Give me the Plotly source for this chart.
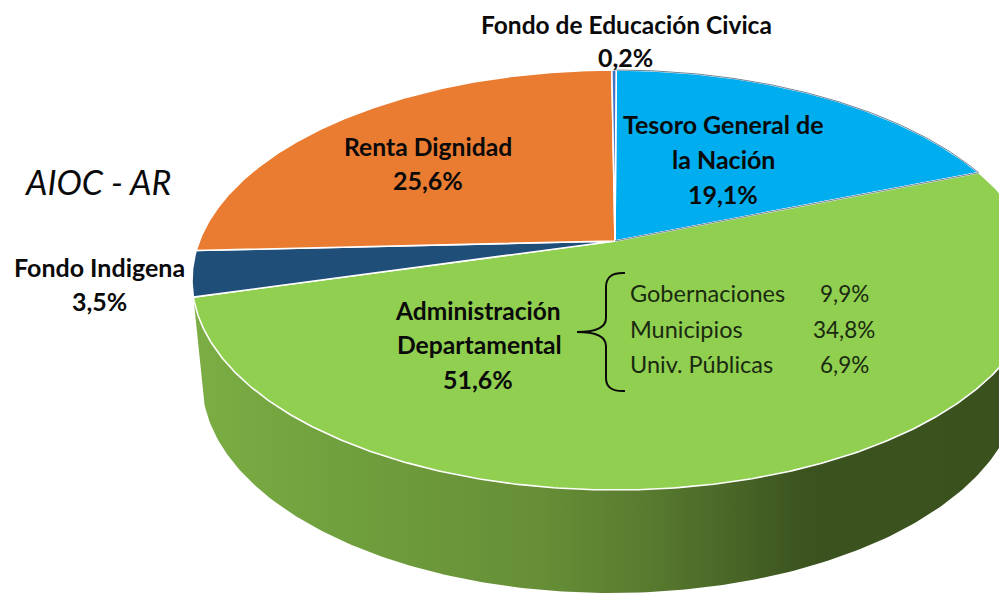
import numpy as np
import plotly.graph_objects as go

# ---- data -------------------------------------------------------------
slice_names = ["Tesoro General de la Nación", "Administración Departamental",
               "Fondo Indigena", "Renta Dignidad", "Fondo de Educación Civica"]
slice_values = [19.1, 51.6, 3.5, 25.6, 0.2]
slice_colors = ["#00ADEE", "#90CF50", "#1F4E79", "#EA7C32", "#4472C4"]
sub_names = ["Gobernaciones", "Municipios", "Univ. Públicas"]
sub_values = ["9,9%", "34,8%", "6,9%"]

# ---- tilted pie projection ----------------------------------------------
CX, CY, RX, RY = 615, 280, 423, 210
H = 0.186  # how far the apex sits above the ellipse centre (normalised)
BX, BY, BRX, BRY = 611, 381, 409, 212  # lower rim of the side wall
START = 0.2  # degrees


def project(deg, r=1.0):
    t = np.radians(deg)
    u, v = r * np.sin(t), r * np.cos(t)
    d = 1 + H * v
    return CX + RX * u * np.sqrt(1 - H ** 2) / d, CY - RY * (v + H) / d


fig = go.Figure()

# side wall
left_x, left_y = project(START + 360 * (slice_values[0] + slice_values[1]) / 100)
a = np.radians(np.linspace(180, 360, 200))
wall_x = [left_x, *(BX + BRX * np.cos(a)), CX + RX]
wall_y = [left_y, *(BY - BRY * np.sin(a)), CY]
fig.add_trace(go.Scatter(
    x=wall_x, y=wall_y, mode="lines", fill="toself", line=dict(width=0),
    hoverinfo="skip", showlegend=False,
    fillgradient=dict(type="horizontal", colorscale=[
        [0.0, "#7BAD44"], [0.13, "#72A33F"], [0.42, "#668E36"],
        [0.55, "#587A2F"], [0.74, "#3B531F"], [1.0, "#3A511E"]],
        start=200, stop=1020),
))

# top face, drawn from the slice values
cum = START
for name, val, col in zip(slice_names, slice_values, slice_colors):
    deg = np.linspace(cum, cum + 360 * val / 100, max(4, int(val * 8)))
    xs, ys = project(deg)
    ax, ay = project(0, 0)
    fig.add_trace(go.Scatter(
        x=[ax, *xs, ax], y=[ay, *ys, ay], mode="lines", fill="toself",
        fillcolor=col, line=dict(color="white", width=1.6),
        name=name, hoverinfo="name", showlegend=False))
    cum += 360 * val / 100

# thin grey edge around the blue slice
deg = np.linspace(START, START + 360 * slice_values[0] / 100, 120)
xs, ys = project(deg)
ax, ay = project(0, 0)
fig.add_trace(go.Scatter(x=[*xs, ax], y=[*ys, ay], mode="lines",
                         line=dict(color="#6E8496", width=1),
                         hoverinfo="skip", showlegend=False))

FONT = "Lato"


def label(x, y, text, size=25, bold=True, anchor="center", italic=False, color="#0a0a0a"):
    t = f"<b>{text}</b>" if bold else text
    t = f"<i>{t}</i>" if italic else t
    fig.add_annotation(x=x, y=y, xref="x", yref="y", text=t, showarrow=False,
                       xanchor=anchor, yanchor="middle",
                       font=dict(family=FONT, size=size, color=color))


label(626, 24, "Fondo de Educación Civica", size=24.5)
label(625, 57, "0,2%")
label(723, 124, "Tesoro General de")
label(723, 159, "la Nación")
label(723, 194, "19,1%")
label(428, 146, "Renta Dignidad", size=24.7)
label(428, 180, "25,6%")
label(97, 181, "AIOC - AR", size=34, bold=False, italic=True)
label(99, 267, "Fondo Indigena")
label(99, 301, "3,5%")
label(478, 310, "Administración", size=24.5)
label(479, 344, "Departamental", size=24.7)
label(478, 379, "51,6%")
for y, n, v in zip([293, 329, 364], sub_names, sub_values):
    label(628, y, n, size=23.5, bold=False, anchor="left", color="#1a2a10")
    label(844, y, v, size=22.5, bold=False, color="#1a2a10")

# brace
fig.add_shape(type="path", xref="x", yref="y",
              path="M 625 273 Q 606 272 606 287 L 606 318 Q 606 332 577 332 "
                   "Q 606 332 606 346 L 606 378 Q 606 392 625 391",
              line=dict(color="#0a0a0a", width=2))

fig.update_xaxes(range=[0, 999], visible=False, fixedrange=True)
fig.update_yaxes(range=[593, 0], visible=False, fixedrange=True)
fig.update_layout(width=999, height=593, margin=dict(l=0, r=0, t=0, b=0),
                  paper_bgcolor="white", plot_bgcolor="white", showlegend=False)
fig.write_html("out.html", config={"displayModeBar": False},
               post_script="document.body.style.margin='0';document.body.style.overflow='hidden';")
